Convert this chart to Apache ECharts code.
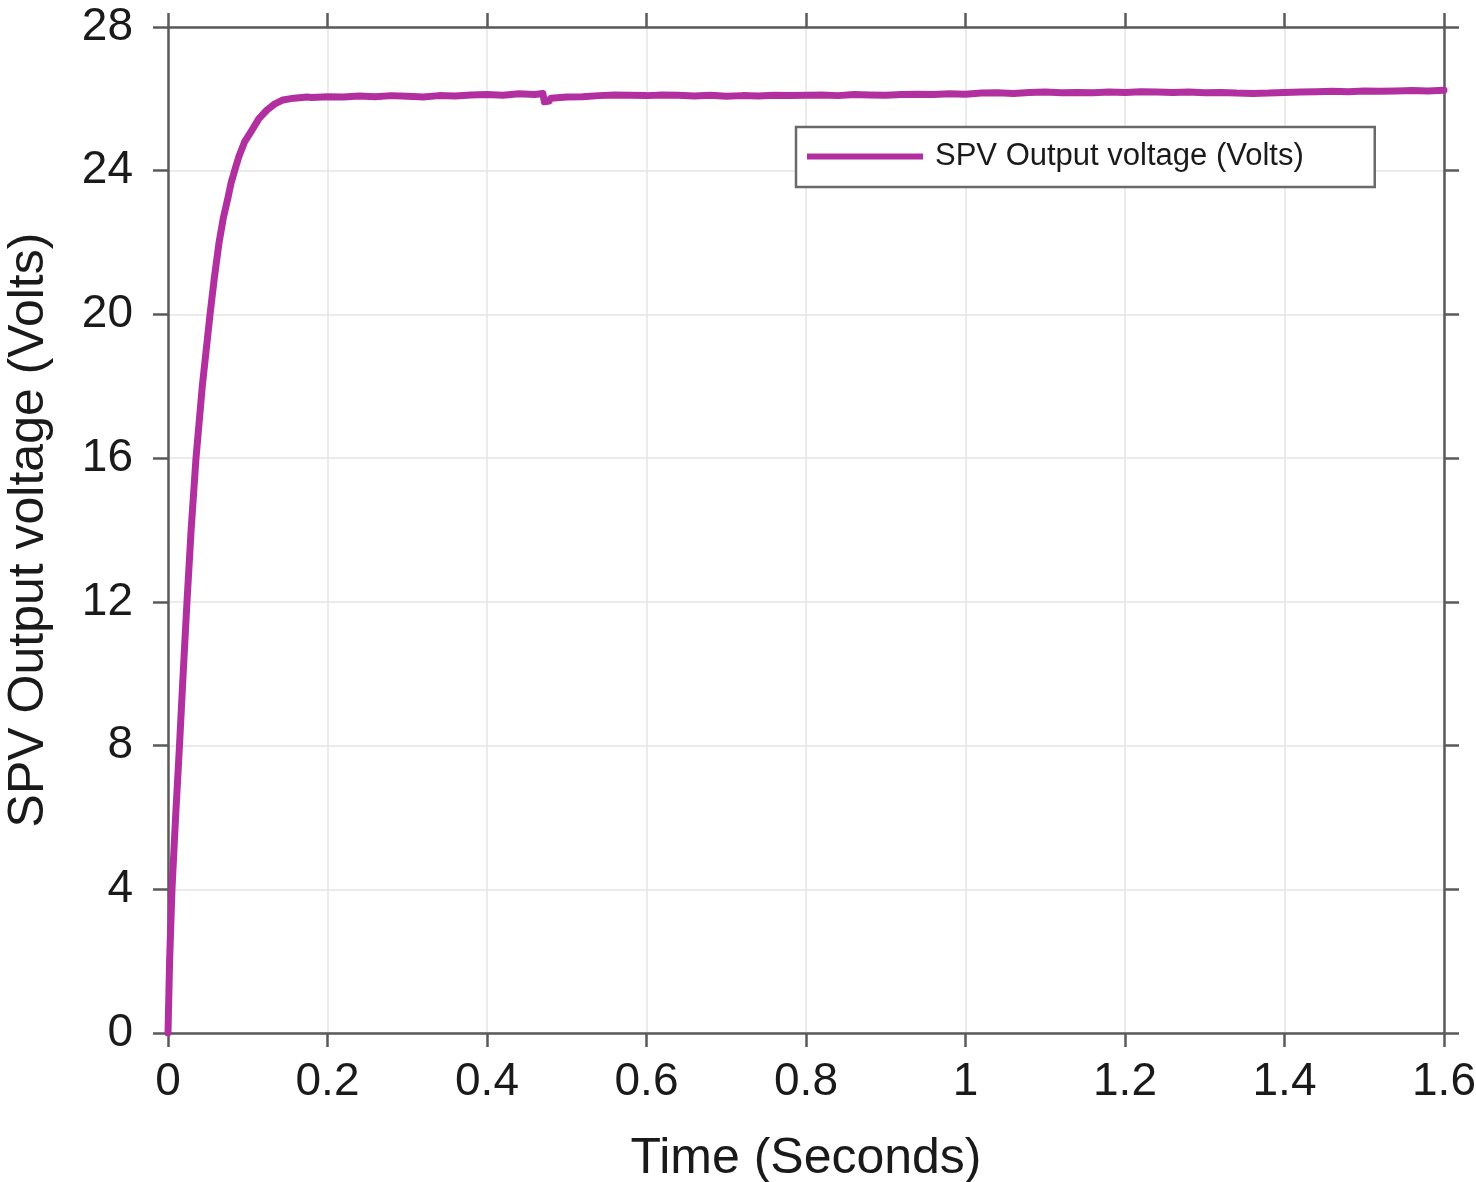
<!DOCTYPE html>
<html>
<head>
<meta charset="utf-8">
<script src="https://cdn.jsdelivr.net/npm/echarts@6/dist/echarts.min.js"></script>
<style>
html,body{margin:0;padding:0;background:#fff;}
#chart{width:1476px;height:1182px;}
</style>
</head>
<body>
<div id="chart"></div>
<script>
// ---- data ----
const seriesName = 'SPV Output voltage (Volts)';
const xTitle = 'Time (Seconds)';
const yTitle = 'SPV Output voltage (Volts)';

const timeSec = [
  0, 0.002, 0.005, 0.0095, 0.0144, 0.019, 0.0238, 0.029, 0.0351, 0.043, 0.0527, 0.058, 0.064, 0.0695, 0.0752, 0.079, 0.0835,
  0.089, 0.096, 0.1053, 0.114, 0.1241, 0.134, 0.1442, 0.158, 0.1743,
  0.18, 0.20, 0.22, 0.24, 0.26, 0.28, 0.30, 0.32, 0.34, 0.36, 0.38, 0.40, 0.42, 0.44, 0.46, 0.47,
  0.472, 0.478, 0.48, 0.50, 0.52, 0.54, 0.56, 0.58, 0.60, 0.62, 0.64, 0.66, 0.68, 0.70, 0.72, 0.74,
  0.76, 0.78, 0.80, 0.82, 0.84, 0.86, 0.88, 0.90, 0.92, 0.94, 0.96, 0.98, 1.00, 1.02, 1.04, 1.06,
  1.08, 1.10, 1.12, 1.14, 1.16, 1.18, 1.20, 1.22, 1.24, 1.26, 1.28, 1.30, 1.32, 1.34, 1.36, 1.38,
  1.40, 1.42, 1.44, 1.46, 1.48, 1.50, 1.52, 1.54, 1.56, 1.58, 1.60
];
const voltage = [
  0, 2.0, 4.0, 6.0, 8.0, 10.0, 12.0, 14.0, 16.0, 18.0, 20.0, 21.0, 22.0, 22.7, 23.25, 23.65, 24.0,
  24.4, 24.8, 25.13, 25.45, 25.69, 25.86, 25.97, 26.02, 26.05,
  26.04, 26.06, 26.05, 26.08, 26.06, 26.09, 26.07, 26.05, 26.09, 26.08, 26.11, 26.12, 26.10, 26.14, 26.12, 26.15,
  25.92, 25.94, 26.02, 26.05, 26.06, 26.09, 26.11, 26.10, 26.09, 26.11, 26.10, 26.08, 26.10, 26.07, 26.09, 26.08,
  26.10, 26.09, 26.10, 26.11, 26.09, 26.12, 26.11, 26.10, 26.12, 26.13, 26.12, 26.14, 26.13, 26.16, 26.17, 26.15,
  26.18, 26.19, 26.17, 26.18, 26.17, 26.19, 26.18, 26.20, 26.19, 26.18, 26.19, 26.17, 26.18, 26.16, 26.15, 26.16,
  26.18, 26.19, 26.20, 26.21, 26.20, 26.22, 26.21, 26.22, 26.23, 26.22, 26.24
];
const xTicks = [0, 0.2, 0.4, 0.6, 0.8, 1, 1.2, 1.4, 1.6];
const yTicks = [0, 4, 8, 12, 16, 20, 24, 28];

// ---- chart ----
const FONT = '"Liberation Sans", Arial, Helvetica, sans-serif';
const AXIS_COLOR = '#5a5a5a';
const GRID_COLOR = '#e4e4e4';
const LINE_COLOR = '#b22fa0';

const chart = echarts.init(document.getElementById('chart'), null, {renderer: 'canvas'});
const fmt = v => String(+(+v).toFixed(2));

const baseX = {
  type: 'value', min: xTicks[0], max: xTicks[xTicks.length - 1], interval: 0.2,
  axisLine: {show: true, onZero: false, lineStyle: {color: AXIS_COLOR, width: 2.5}},
  axisTick: {show: true, inside: false, length: 14, lineStyle: {color: AXIS_COLOR, width: 2.5}}
};
const baseY = {
  type: 'value', min: yTicks[0], max: yTicks[yTicks.length - 1], interval: 4,
  axisLine: {show: true, onZero: false, lineStyle: {color: AXIS_COLOR, width: 2.5}},
  axisTick: {show: true, inside: false, length: 15, lineStyle: {color: AXIS_COLOR, width: 2.5}}
};

chart.setOption({
  animation: false,
  backgroundColor: '#ffffff',
  grid: {left: 168, right: 32, top: 27, bottom: 149, containLabel: false, outerBoundsMode: 'none'},
  legend: {
    show: true,
    left: 796, top: 127,
    data: [seriesName],
    icon: 'rect',
    itemWidth: 116, itemHeight: 6,
    padding: [14, 71, 15, 11],
    borderColor: '#6a6a6a', borderWidth: 2.5, borderRadius: 0,
    backgroundColor: '#ffffff',
    textStyle: {fontFamily: FONT, fontSize: 31, color: '#1a1a1a', padding: [0, 0, 0, 7]}
  },
  xAxis: [
    Object.assign({}, baseX, {
      position: 'bottom',
      name: xTitle, nameLocation: 'middle', nameGap: 101,
      nameTextStyle: {fontFamily: FONT, fontSize: 50, color: '#1a1a1a'},
      axisLabel: {show: true, margin: 26, fontFamily: FONT, fontSize: 46, color: '#1a1a1a', formatter: fmt},
      splitLine: {show: true, lineStyle: {color: GRID_COLOR, width: 1.5}}
    }),
    Object.assign({}, baseX, {
      position: 'top',
      axisLabel: {show: false},
      splitLine: {show: false}
    })
  ],
  yAxis: [
    Object.assign({}, baseY, {
      position: 'left',
      name: yTitle, nameLocation: 'middle', nameGap: 114, nameRotate: 90,
      nameTextStyle: {fontFamily: FONT, fontSize: 50, color: '#1a1a1a'},
      axisLabel: {show: true, margin: 35, fontFamily: FONT, fontSize: 46, color: '#1a1a1a', formatter: fmt},
      splitLine: {show: true, lineStyle: {color: GRID_COLOR, width: 1.5}}
    }),
    Object.assign({}, baseY, {
      position: 'right',
      axisLabel: {show: false},
      splitLine: {show: false}
    })
  ],
  series: [{
    name: seriesName,
    type: 'line',
    xAxisIndex: 0, yAxisIndex: 0,
    showSymbol: false, symbol: 'none',
    smooth: false,
    data: timeSec.map((t, i) => [t, voltage[i]]),
    lineStyle: {color: LINE_COLOR, width: 7, join: 'round', cap: 'round'},
    itemStyle: {color: LINE_COLOR},
    z: 5
  }]
});
</script>
</body>
</html>
